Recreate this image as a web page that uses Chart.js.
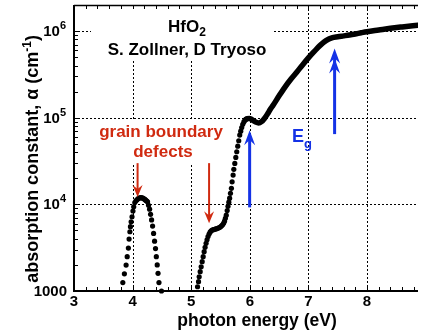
<!DOCTYPE html>
<html>
<head>
<meta charset="utf-8">
<script src="https://cdn.jsdelivr.net/npm/chart.js"></script>
<style>
  html, body { margin: 0; padding: 0; background: #fff; }
  #wrap { width: 422px; height: 335px; position: relative; }
</style>
</head>
<body>
<div id="wrap"><canvas id="myChart"></canvas></div>
<script>
// x axis (photon energy, eV) and y axis (alpha, cm-1) ticks
const xTicks = [3, 4, 5, 6, 7, 8];
const yTicks = [1000, 1e4, 1e5, 1e6];
const yTickLabels = [['1000', ''], ['10', '4'], ['10', '5'], ['10', '6']];

// grain boundary defect peak, [energy, alpha]
const peakDots = [
  [3.833, 1250], [3.860, 1580], [3.889, 1990], [3.908, 2490], [3.928, 3130],
  [3.940, 3980], [3.954, 4830], [3.963, 5520], [3.975, 6300], [3.990, 7190],
  [4.006, 8380], [4.019, 9380], [4.038, 10500], [4.057, 11000], [4.074, 11300],
  [4.091, 11600], [4.108, 11800], [4.125, 11900], [4.142, 12000], [4.159, 11900],
  [4.176, 11800], [4.193, 11600], [4.210, 11400], [4.227, 11100], [4.242, 10900],
  [4.255, 10700], [4.272, 9770], [4.290, 8810], [4.307, 7670], [4.324, 6610],
  [4.341, 5620], [4.358, 4620], [4.375, 3760], [4.391, 3090], [4.405, 2490],
  [4.420, 2000], [4.434, 1600], [4.450, 1250], [4.493, 1000]
];

// absorption edge rise, [energy, alpha]
const edgeDots = [
  [5.108, 1120], [5.125, 1280], [5.136, 1460], [5.153, 1670], [5.170, 1900],
  [5.187, 2180], [5.204, 2490], [5.221, 2840], [5.237, 3190], [5.254, 3550],
  [5.270, 3900], [5.287, 4250], [5.305, 4550], [5.322, 4780], [5.340, 4950],
  [5.358, 5050], [5.378, 5100], [5.400, 5150], [5.420, 5200], [5.440, 5250],
  [5.460, 5320], [5.480, 5400], [5.500, 5500], [5.518, 5650], [5.535, 5800],
  [5.552, 6050], [5.568, 6400], [5.583, 6900], [5.598, 7500], [5.614, 8500],
  [5.628, 9500], [5.642, 10600], [5.656, 11800], [5.670, 13400], [5.686, 15300],
  [5.698, 18200], [5.715, 21800], [5.727, 25400], [5.744, 29700], [5.761, 34800],
  [5.777, 40500], [5.794, 47000], [5.811, 54200], [5.828, 63000], [5.845, 70000],
  [5.862, 77000], [5.880, 84000], [5.898, 89500], [5.917, 93500], [5.935, 96500]
];

// above the gap, [energy, alpha]
const bandLine = [
  [5.930, 95000], [5.960, 97500], [5.990, 98000], [6.020, 96500], [6.060, 92500],
  [6.100, 89000], [6.150, 87000], [6.200, 90000], [6.250, 98000], [6.300, 110000],
  [6.350, 125000], [6.400, 140000], [6.500, 179000], [6.600, 226000], [6.700, 278000],
  [6.800, 335000], [6.900, 407000], [7.000, 490000], [7.100, 582000], [7.200, 684000],
  [7.300, 776000], [7.400, 836000], [7.500, 861000], [7.600, 881000], [7.700, 902000],
  [7.800, 927000], [7.900, 955000], [8.000, 982000], [8.200, 1028000], [8.400, 1076000],
  [8.600, 1117000], [8.870, 1170000]
];

// arrows: [energy, alpha at tail, alpha at tip]
const defectArrows = [[4.085, 29900, 12200], [5.305, 29900, 6040]];
const gapArrows = [[5.997, 9230, 71900], [7.447, 64700, 630000]];

const FONT = '"Liberation Sans", Arial, Helvetica, sans-serif';
const RED = '#d02a10';
const BLUE = '#1432e6';

const toXY = arr => arr.map(p => ({ x: p[0], y: p[1] }));

function drawArrow(ctx, x, yTail, yTip, color, lw, hl, hw, heads) {
  ctx.strokeStyle = color;
  ctx.fillStyle = color;
  ctx.lineWidth = lw;
  const dir = yTip < yTail ? 1 : -1; // 1 = pointing up
  ctx.beginPath();
  ctx.moveTo(x, yTail);
  ctx.lineTo(x, yTip + dir * hl * 0.6);
  ctx.stroke();
  for (let k = 0; k < heads; k++) {
    const t = yTip + dir * k * 10;
    ctx.beginPath();
    ctx.moveTo(x, t);
    ctx.lineTo(x - hw, t + dir * hl);
    ctx.lineTo(x, t + dir * hl * 0.65);
    ctx.lineTo(x + hw, t + dir * hl);
    ctx.closePath();
    ctx.fill();
  }
}

const frame = {
  id: 'frame',
  beforeDatasetsDraw(chart) {
    const { ctx, chartArea: a, scales: { x, y } } = chart;
    ctx.save();
    // dotted grid
    ctx.strokeStyle = '#000';
    ctx.lineWidth = 1;
    ctx.setLineDash([2, 2]);
    xTicks.forEach(v => {
      if (v <= x.min) return;
      const px = Math.round(x.getPixelForValue(v)) + 0.5;
      ctx.beginPath(); ctx.moveTo(px, a.top); ctx.lineTo(px, a.bottom); ctx.stroke();
    });
    yTicks.forEach(v => {
      if (v <= y.min) return;
      const py = Math.round(y.getPixelForValue(v)) + 0.5;
      ctx.beginPath(); ctx.moveTo(a.left, py); ctx.lineTo(a.right, py); ctx.stroke();
    });
    ctx.setLineDash([]);
    // white boxes behind the labels
    ctx.fillStyle = '#fff';
    ctx.fillRect(a.left + 17, a.top, 182, 55);
    ctx.fillRect(a.left + 21, a.top + 114, 134, 44);
    ctx.restore();
  },
  afterDatasetsDraw(chart) {
    const { ctx, chartArea: a, scales: { x, y } } = chart;
    ctx.save();

    // frame
    ctx.strokeStyle = '#000';
    ctx.lineWidth = 2;
    ctx.beginPath();
    ctx.moveTo(a.left, a.top); ctx.lineTo(a.left, a.bottom); ctx.lineTo(a.right, a.bottom);
    ctx.stroke();
    ctx.lineWidth = 1.5;
    ctx.beginPath(); ctx.moveTo(a.left, a.top + 0.5); ctx.lineTo(a.right, a.top + 0.5); ctx.stroke();

    // minor ticks
    ctx.lineWidth = 1;
    for (let e = 3; e <= x.max + 1e-9; e += 0.2) {
      const px = Math.round(x.getPixelForValue(e)) + 0.5;
      ctx.beginPath();
      ctx.moveTo(px, a.bottom); ctx.lineTo(px, a.bottom - 4);
      ctx.moveTo(px, a.top); ctx.lineTo(px, a.top + 4);
      ctx.stroke();
    }
    for (let d = 1000; d < y.max; d *= 10) {
      for (let k = 1; k <= 9; k++) {
        const v = d * k;
        if (v > y.max) break;
        const py = Math.round(y.getPixelForValue(v)) + 0.5;
        ctx.beginPath(); ctx.moveTo(a.left, py); ctx.lineTo(a.left + (k === 1 ? 6 : 4), py); ctx.stroke();
      }
    }

    // tick labels
    ctx.fillStyle = '#000';
    ctx.font = 'bold 15px ' + FONT;
    ctx.textAlign = 'center';
    ctx.textBaseline = 'alphabetic';
    xTicks.forEach(v => ctx.fillText(String(v), x.getPixelForValue(v), a.bottom + 15));
    yTicks.forEach((v, i) => {
      const py = y.getPixelForValue(v);
      const [base, sup] = yTickLabels[i];
      ctx.textAlign = 'right';
      if (!sup) {
        ctx.font = 'bold 15px ' + FONT;
        ctx.fillText(base, a.left - 7, py + 5);
      } else {
        ctx.font = 'bold 11px ' + FONT;
        const sw = ctx.measureText(sup).width;
        ctx.fillText(sup, a.left - 8, py - 2);
        ctx.font = 'bold 15px ' + FONT;
        ctx.fillText(base, a.left - 8 - sw, py + 5);
      }
    });

    // axis titles
    ctx.font = 'bold 17.5px ' + FONT;
    ctx.textAlign = 'center';
    ctx.fillText('photon energy (eV)', 257, a.bottom + 35);

    ctx.save();
    ctx.translate(38, 159);
    ctx.rotate(-Math.PI / 2);
    const t1 = 'absorption constant, \u03b1 (cm', t2 = '-1', t3 = ')';
    ctx.font = 'bold 18px ' + FONT;
    const w1 = ctx.measureText(t1).width, w3 = ctx.measureText(t3).width;
    ctx.font = 'bold 12px ' + FONT;
    const w2 = ctx.measureText(t2).width;
    let sx = -(w1 + w2 + w3) / 2;
    ctx.textAlign = 'left';
    ctx.font = 'bold 18px ' + FONT;
    ctx.fillText(t1, sx, 0); sx += w1;
    ctx.font = 'bold 12px ' + FONT;
    ctx.fillText(t2, sx, -7); sx += w2;
    ctx.font = 'bold 18px ' + FONT;
    ctx.fillText(t3, sx, 0);
    ctx.restore();

    // title: HfO2 / authors
    ctx.textAlign = 'left';
    ctx.font = 'bold 17px ' + FONT;
    const wh = ctx.measureText('HfO').width;
    ctx.font = 'bold 12px ' + FONT;
    const ws = ctx.measureText('2').width;
    let hx = 187 - (wh + ws) / 2;
    ctx.font = 'bold 17px ' + FONT;
    ctx.fillText('HfO', hx, 32);
    ctx.font = 'bold 12px ' + FONT;
    ctx.fillText('2', hx + wh, 36);
    ctx.font = 'bold 17px ' + FONT;
    ctx.textAlign = 'center';
    ctx.fillText('S. Zollner, D Tryoso', 187, 55);

    // defect label
    ctx.fillStyle = RED;
    ctx.fillText('grain boundary', 161, 137);
    ctx.fillText('defects', 163, 157);

    // gap label
    ctx.fillStyle = BLUE;
    ctx.textAlign = 'left';
    ctx.font = 'bold 18px ' + FONT;
    ctx.fillText('E', 292, 142);
    const we = ctx.measureText('E').width;
    ctx.font = 'bold 13px ' + FONT;
    ctx.fillText('g', 292 + we, 148);

    // arrows
    defectArrows.forEach(([e, a0, a1]) =>
      drawArrow(ctx, x.getPixelForValue(e), y.getPixelForValue(a0), y.getPixelForValue(a1), RED, 2, 12, 5, 1));
    gapArrows.forEach(([e, a0, a1], i) =>
      drawArrow(ctx, x.getPixelForValue(e), y.getPixelForValue(a0), y.getPixelForValue(a1), BLUE, 3, 15, 5.5, i + 1));

    ctx.restore();
  }
};

const ctx = document.getElementById('myChart').getContext('2d');
const myChart = new Chart(ctx, {
  type: 'scatter',
  data: {
    datasets: [{
      data: toXY(peakDots),
      showLine: false,
      pointRadius: 2.6,
      pointBorderWidth: 0,
      pointBackgroundColor: '#000',
      clip: false
    }, {
      data: toXY(edgeDots),
      showLine: false,
      pointRadius: 2.6,
      pointBorderWidth: 0,
      pointBackgroundColor: '#000',
      clip: false
    }, {
      data: toXY(bandLine),
      showLine: true,
      pointRadius: 0,
      borderColor: '#000',
      borderWidth: 5.5,
      borderCapStyle: 'round',
      borderJoinStyle: 'round',
      cubicInterpolationMode: 'monotone'
    }]
  },
  options: {
    responsive: true,
    maintainAspectRatio: false,
    animation: false,
    layout: { padding: { top: 5, right: 0, left: 0, bottom: 0 } },
    plugins: { legend: { display: false }, tooltip: { enabled: false } },
    scales: {
      x: {
        type: 'linear', min: 3, max: 8.87,
        grid: { display: false }, border: { display: false },
        ticks: { display: false },
        afterFit(s) { s.height = 44; }
      },
      y: {
        type: 'logarithmic', min: 1000, max: 2e6,
        grid: { display: false }, border: { display: false },
        ticks: { display: false },
        afterFit(s) { s.width = 74; }
      }
    }
  },
  plugins: [frame]
});
</script>
</body>
</html>
